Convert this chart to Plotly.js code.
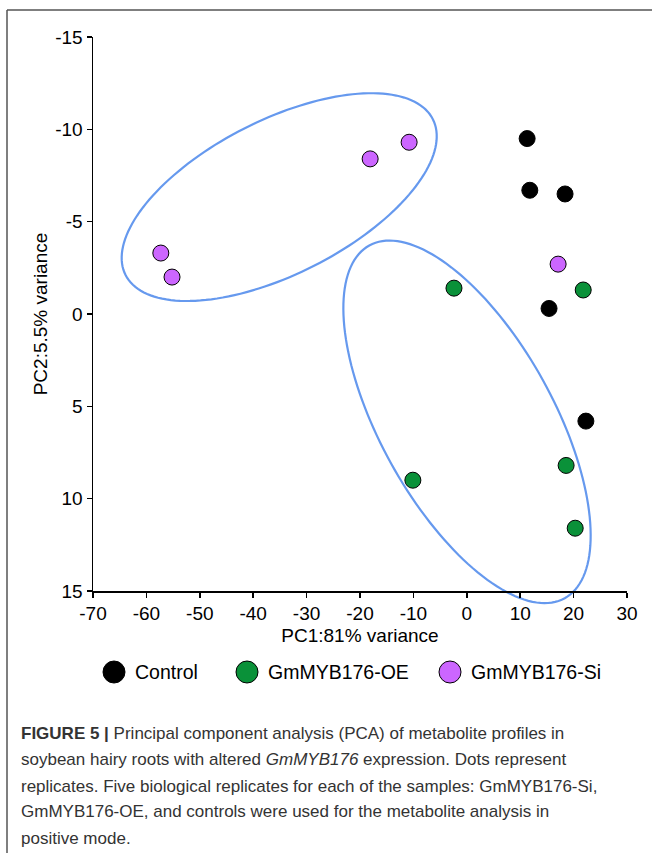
<!DOCTYPE html>
<html>
<head>
<meta charset="utf-8">
<script src="https://cdn.plot.ly/plotly-3.0.1.min.js"></script>
<style>html,body{margin:0;padding:0;background:#fff;}#chart{width:652px;height:853px;}</style>
</head>
<body>
<div id="chart"></div>
<script>
// ---- Data ----
var seriesNames = ["Control", "GmMYB176-OE", "GmMYB176-Si"];
var seriesColors = ["#000000", "#0A9139", "#CC66FF"];

var controlPC1 = [11.3, 11.8, 18.4, 15.4, 22.3];
var controlPC2 = [-9.5, -6.7, -6.5, -0.3, 5.8];

var oePC1 = [-2.4, 21.8, -10.1, 18.6, 20.3];
var oePC2 = [-1.4, -1.3, 9.0, 8.2, 11.6];

var siPC1 = [-57.3, -55.2, -18.1, -10.8, 17.1];
var siPC2 = [-3.3, -2.0, -8.4, -9.3, -2.7];

var xTicks = [-70, -60, -50, -40, -30, -20, -10, 0, 10, 20, 30];
var yTicks = [-15, -10, -5, 0, 5, 10, 15];
var xRange = [-70, 30];
var yRange = [15, -15];

// ellipse groupings: center and two conjugate half-axis vectors (data units)
var ellipseSi = {c: [-35.13, -6.33], u: [28.77, -4.22], v: [-6.52, -3.72]};
var ellipseOE = {c: [0.04, 5.84], u: [18.30, 9.55], v: [14.19, -2.27]};

var captionLines = [
  "<b>FIGURE 5 |</b> Principal component analysis (PCA) of metabolite profiles in",
  "soybean hairy roots with altered <i>GmMYB176</i> expression. Dots represent",
  "replicates. Five biological replicates for each of the samples: GmMYB176-Si,",
  "GmMYB176-OE, and controls were used for the metabolite analysis in",
  "positive mode."
];

// ---- Build ----
var FONT = "Liberation Sans, Arial, Helvetica, sans-serif";
var L = 93, R = 25, T = 37, B = 262, W = 652, H = 853;
var pw = W - L - R, ph = H - T - B;
function px2x(px) { return (px - L) / pw; }
function py2y(py) { return (H - B - py) / ph; }

// ellipse drawn in paper coordinates (converted from data) so it is not clipped by the axes
function ellipsePath(e) {
  var n = 160, d = "";
  for (var i = 0; i <= n; i++) {
    var t = 2 * Math.PI * i / n;
    var x = e.c[0] + e.u[0] * Math.cos(t) + e.v[0] * Math.sin(t);
    var y = e.c[1] + e.u[1] * Math.cos(t) + e.v[1] * Math.sin(t);
    var xp = (x - xRange[0]) / (xRange[1] - xRange[0]);
    var yp = (y - yRange[0]) / (yRange[1] - yRange[0]);
    d += (i === 0 ? "M" : "L") + xp.toFixed(5) + "," + yp.toFixed(5);
  }
  return d + "Z";
}

var xs = [controlPC1, oePC1, siPC1];
var ys = [controlPC2, oePC2, siPC2];
var traces = seriesNames.map(function (name, i) {
  return {
    type: "scatter", mode: "markers", name: name,
    x: xs[i], y: ys[i], cliponaxis: false,
    marker: {size: 16, color: seriesColors[i], line: {color: "#000", width: 1}},
    showlegend: false, hoverinfo: "x+y+name"
  };
});

var shapes = [
  {type: "path", xref: "paper", yref: "paper", path: ellipsePath(ellipseSi), line: {color: "#6699EE", width: 2.2}, layer: "below"},
  {type: "path", xref: "paper", yref: "paper", path: ellipsePath(ellipseOE), line: {color: "#6699EE", width: 2.2}, layer: "below"},
  // figure frame (top and left)
  {type: "line", xref: "paper", yref: "paper", x0: px2x(7), x1: px2x(660), y0: py2y(10), y1: py2y(10), line: {color: "#555", width: 1.5}},
  {type: "line", xref: "paper", yref: "paper", x0: px2x(7), x1: px2x(7), y0: py2y(10), y1: py2y(860), line: {color: "#555", width: 1.5}}
];

var annotations = [];
// manual legend
var legCircleX = [114, 247, 450];
var legY = 672;
seriesNames.forEach(function (name, i) {
  shapes.push({
    type: "circle", xref: "paper", yref: "paper", xsizemode: "pixel", ysizemode: "pixel",
    xanchor: px2x(legCircleX[i]), yanchor: py2y(legY),
    x0: -11, x1: 11, y0: -11, y1: 11,
    fillcolor: seriesColors[i], line: {color: "#000", width: 1}
  });
  annotations.push({
    xref: "paper", yref: "paper", x: px2x(legCircleX[i] + 19), y: py2y(legY),
    xanchor: "left", yanchor: "middle", showarrow: false, text: name,
    font: {family: FONT, size: 19.5, color: "#000"}
  });
});
// caption
var capY = [733, 760, 786, 812, 838];
captionLines.forEach(function (line, i) {
  annotations.push({
    xref: "paper", yref: "paper", x: px2x(19), y: py2y(capY[i]),
    xanchor: "left", yanchor: "middle", showarrow: false, text: line,
    font: {family: FONT, size: 17, color: "#333"}
  });
});

var layout = {
  width: W, height: H,
  margin: {l: L, r: R, t: T, b: B, pad: 0},
  paper_bgcolor: "#fff", plot_bgcolor: "#fff",
  showlegend: false,
  font: {family: FONT, color: "#000"},
  xaxis: {
    range: xRange, tickmode: "array", tickvals: xTicks, ticktext: xTicks.map(String),
    showgrid: false, zeroline: false, showline: true, linecolor: "#000", linewidth: 1.5,
    ticks: "outside", ticklen: 5, tickwidth: 1.5, tickcolor: "#000",
    tickfont: {family: FONT, size: 19, color: "#000"},
    title: {text: "PC1:81% variance", font: {family: FONT, size: 19, color: "#000"}, standoff: 5}
  },
  yaxis: {
    range: yRange, tickmode: "array", tickvals: yTicks, ticktext: yTicks.map(String),
    showgrid: false, zeroline: false, showline: true, linecolor: "#000", linewidth: 1.5,
    ticks: "outside", ticklen: 5, tickwidth: 1.5, tickcolor: "#000",
    tickfont: {family: FONT, size: 19, color: "#000"},
    title: {text: "PC2:5.5% variance", font: {family: FONT, size: 19, color: "#000"}, standoff: 2}
  },
  shapes: shapes,
  annotations: annotations
};

Plotly.newPlot("chart", traces, layout, {displayModeBar: false, staticPlot: true});
</script>
</body>
</html>
